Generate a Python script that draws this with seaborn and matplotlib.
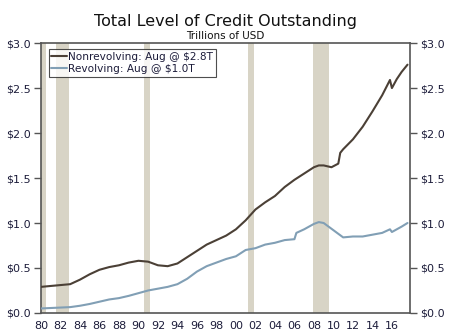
import matplotlib
matplotlib.use("Agg")
import matplotlib.pyplot as plt
import seaborn as sns
import pandas as pd

# Consumer credit outstanding, trillions of USD (decimal year)
nonrev_years = [1980.0, 1981.0, 1982.0, 1983.0, 1984.0, 1985.0, 1986.0, 1987.0, 1988.0,
                1989.0, 1990.0, 1991.0, 1992.0, 1993.0, 1994.0, 1995.0, 1996.0, 1997.0,
                1998.0, 1999.0, 2000.0, 2001.0, 2002.0, 2003.0, 2004.0, 2005.0, 2006.0,
                2007.0, 2008.0, 2008.5, 2009.0, 2009.8, 2010.5, 2010.7, 2011.0, 2012.0,
                2013.0, 2014.0, 2015.0, 2015.8, 2016.0, 2016.5, 2017.0, 2017.6]
nonrev_values = [0.29, 0.30, 0.31, 0.32, 0.37, 0.43, 0.48, 0.51, 0.53,
                 0.56, 0.58, 0.57, 0.53, 0.52, 0.55, 0.62, 0.69, 0.76,
                 0.81, 0.86, 0.93, 1.03, 1.15, 1.23, 1.30, 1.40, 1.48,
                 1.55, 1.62, 1.64, 1.64, 1.62, 1.66, 1.78, 1.82, 1.93,
                 2.07, 2.24, 2.42, 2.59, 2.50, 2.60, 2.68, 2.76]

rev_years = [1980.0, 1981.0, 1982.0, 1983.0, 1984.0, 1985.0, 1986.0, 1987.0, 1988.0,
             1989.0, 1990.0, 1991.0, 1992.0, 1993.0, 1994.0, 1995.0, 1996.0, 1997.0,
             1998.0, 1999.0, 2000.0, 2001.0, 2002.0, 2003.0, 2004.0, 2005.0, 2006.0,
             2006.2, 2007.0, 2008.0, 2008.5, 2009.0, 2010.0, 2011.0, 2012.0, 2013.0,
             2014.0, 2015.0, 2015.8, 2016.0, 2016.5, 2017.0, 2017.6]
rev_values = [0.05, 0.055, 0.06, 0.065, 0.08, 0.10, 0.125, 0.15, 0.165,
              0.19, 0.22, 0.25, 0.27, 0.29, 0.32, 0.38, 0.46, 0.52,
              0.56, 0.60, 0.63, 0.70, 0.72, 0.76, 0.78, 0.81, 0.82,
              0.89, 0.93, 0.99, 1.01, 1.00, 0.92, 0.84, 0.85, 0.85,
              0.87, 0.89, 0.93, 0.90, 0.93, 0.96, 1.00]

series_labels = ["Nonrevolving: Aug @ $2.8T", "Revolving: Aug @ $1.0T"]
series_colors = ["#4b4036", "#819fb5"]

# NBER recessions (start, end)
recessions = [(1980.0, 1980.55), (1981.55, 1982.9), (1990.55, 1991.2),
              (2001.2, 2001.9), (2007.95, 2009.5)]

x_ticks = list(range(1980, 2017, 2))
x_tick_labels = [f"{y % 100:02d}" for y in x_ticks]
y_ticks = [0.0, 0.5, 1.0, 1.5, 2.0, 2.5, 3.0]

df = pd.concat([
    pd.DataFrame({"year": nonrev_years, "value": nonrev_values, "series": series_labels[0]}),
    pd.DataFrame({"year": rev_years, "value": rev_values, "series": series_labels[1]}),
])

sns.set_style("white")
plt.rcParams["font.family"] = ["DejaVu Sans"]

fig = plt.figure(figsize=(4.5, 3.34), dpi=100)
ax = fig.add_axes([0.091, 0.063, 0.82, 0.808])

for start, end in recessions:
    ax.axvspan(start, end, color="#d8d4c6", lw=0, zorder=0)

sns.lineplot(data=df, x="year", y="value", hue="series", palette=series_colors,
             linewidth=1.5, ax=ax, legend=True, zorder=3)

ax.set_xlim(1980, 2017.85)
ax.set_ylim(0, 3.0)
ax.set_xlabel("")
ax.set_ylabel("")

ax.set_xticks(x_ticks)
ax.set_xticklabels(x_tick_labels)
ax.set_yticks(y_ticks)
ax.set_yticklabels([f"${v:.1f}" for v in y_ticks])

text_color = "#1c1c3a"
spine_color = "#555555"
for s in ax.spines.values():
    s.set_color(spine_color)
    s.set_linewidth(1.2)

ax.tick_params(axis="x", direction="inout", length=7, width=1, color=spine_color,
               labelsize=8, labelcolor=text_color, pad=2)
ax.tick_params(axis="y", direction="out", length=5, width=1, color=spine_color,
               labelsize=8, labelcolor=text_color, pad=2, left=True)

ax2 = ax.twinx()
ax2.set_ylim(ax.get_ylim())
ax2.set_yticks(y_ticks)
ax2.set_yticklabels([f"${v:.1f}" for v in y_ticks])
ax2.tick_params(axis="y", direction="out", length=5, width=1, color=spine_color,
                labelsize=8, labelcolor=text_color, pad=2, right=True)
for s in ax2.spines.values():
    s.set_visible(False)

leg = ax.legend(loc="upper left", bbox_to_anchor=(0.015, 0.985), fontsize=7.6,
                frameon=True, fancybox=False, edgecolor="#222222",
                handlelength=1.5, handletextpad=0.1, borderpad=0.25,
                labelspacing=0.2, borderaxespad=0.2)
leg.get_frame().set_linewidth(0.8)
for t in leg.get_texts():
    t.set_color(text_color)

fig.text(0.5, 0.935, "Total Level of Credit Outstanding", ha="center", va="center",
         fontsize=11.5, color="#111111")
fig.text(0.5, 0.893, "Trillions of USD", ha="center", va="center",
         fontsize=7.5, color="#111111")

fig.savefig("out.png", dpi=100)
